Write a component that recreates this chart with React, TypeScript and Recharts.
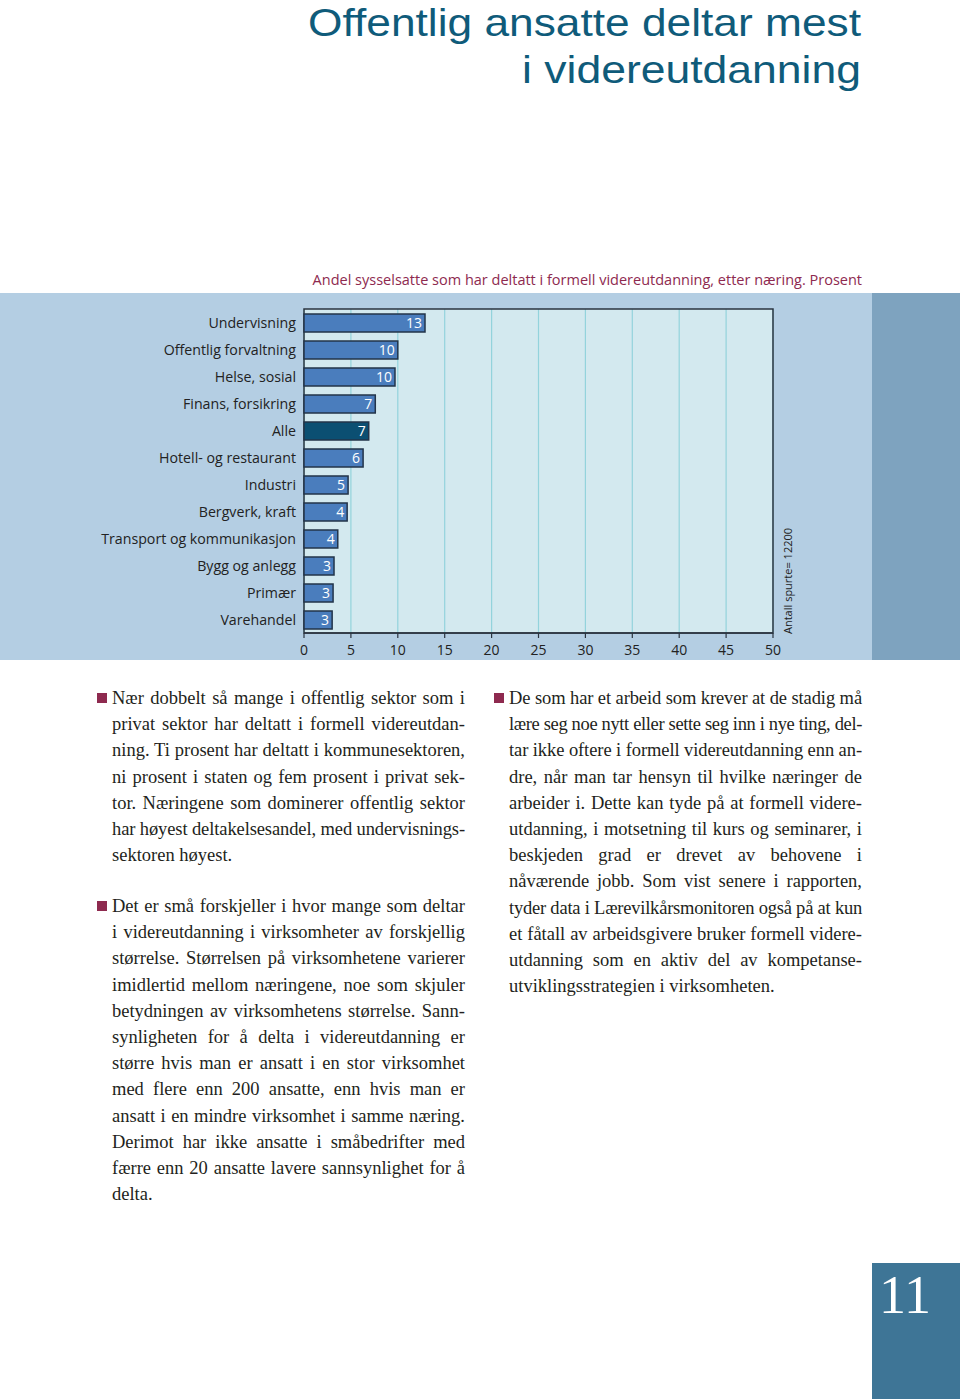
import React, { useLayoutEffect, useRef, useState } from "react";
import {
  Bar,
  BarChart,
  CartesianGrid,
  Cell,
  LabelList,
  ReferenceArea,
  XAxis,
  YAxis,
} from "recharts";

const categories = [
  "Undervisning",
  "Offentlig forvaltning",
  "Helse, sosial",
  "Finans, forsikring",
  "Alle",
  "Hotell- og restaurant",
  "Industri",
  "Bergverk, kraft",
  "Transport og kommunikasjon",
  "Bygg og anlegg",
  "Primær",
  "Varehandel",
];
const shares = [12.9, 10.0, 9.7, 7.6, 6.9, 6.3, 4.7, 4.6, 3.6, 3.2, 3.1, 3.0];
const shareLabels = ["13", "10", "10", "7", "7", "6", "5", "4", "4", "3", "3", "3"];
const xTicks = [0, 5, 10, 15, 20, 25, 30, 35, 40, 45, 50];

const titleLines = ["Offentlig ansatte deltar mest", "i videreutdanning"];
const chartTitle =
  "Andel sysselsatte som har deltatt i formell videreutdanning, etter næring. Prosent";
const sampleNote = "Antall spurte= 12200";

const para1 = [
  "Nær dobbelt så mange i offentlig sektor som i",
  "privat sektor har deltatt i formell videreutdan-",
  "ning. Ti prosent har deltatt i kommunesektoren,",
  "ni prosent i staten og fem prosent i privat sek-",
  "tor. Næringene som dominerer offentlig sektor",
  "har høyest deltakelsesandel, med undervisnings-",
  "sektoren høyest.",
];
const para2 = [
  "Det er små forskjeller i hvor mange som deltar",
  "i videreutdanning i virksomheter av forskjellig",
  "størrelse. Størrelsen på virksomhetene varierer",
  "imidlertid mellom næringene, noe som skjuler",
  "betydningen av virksomhetens størrelse. Sann-",
  "synligheten for å delta i videreutdanning er",
  "større hvis man er ansatt i en stor virksomhet",
  "med flere enn 200 ansatte, enn hvis man er",
  "ansatt i en mindre virksomhet i samme næring.",
  "Derimot har ikke ansatte i småbedrifter med",
  "færre enn 20 ansatte lavere sannsynlighet for å",
  "delta.",
];
const para3 = [
  "De som har et arbeid som krever at de stadig må",
  "lære seg noe nytt eller sette seg inn i nye ting, del-",
  "tar ikke oftere i formell videreutdanning enn an-",
  "dre, når man tar hensyn til hvilke næringer de",
  "arbeider i. Dette kan tyde på at formell videre-",
  "utdanning, i motsetning til kurs og seminarer, i",
  "beskjeden grad er drevet av behovene i",
  "nåværende jobb. Som vist senere i rapporten,",
  "tyder data i Lærevilkårsmonitoren også på at kun",
  "et fåtall av arbeidsgivere bruker formell videre-",
  "utdanning som en aktiv del av kompetanse-",
  "utviklingsstrategien i virksomheten.",
];
const pageNumber = "11";

const accent = "#8e2a4f";
const sans = "'Open Sans', 'Noto Sans', sans-serif";
const serif = "'Liberation Serif', serif";

// justified line: measure natural width, then spread word gaps (or squeeze letters when too long)
function Line({ text, justify, width }: { text: string; justify: boolean; width: number }) {
  const ref = useRef<HTMLSpanElement>(null);
  const [fit, setFit] = useState({ word: 0, letter: 0 });
  useLayoutEffect(() => {
    if (!justify || !ref.current) return;
    const natural = ref.current.getBoundingClientRect().width;
    const spaces = text.split(" ").length - 1;
    const extra = width - natural;
    if (extra < 0) setFit({ word: 0, letter: extra / text.length });
    else if (spaces > 0) setFit({ word: extra / spaces, letter: 0 });
  }, [text, width, justify]);
  return (
    <span ref={ref} style={{ whiteSpace: "nowrap", wordSpacing: fit.word, letterSpacing: fit.letter }}>
      {text}
    </span>
  );
}

function Paragraph({ lines, x, top, width }: { lines: string[]; x: number; top: number; width: number }) {
  return (
    <>
      <div
        style={{
          position: "absolute",
          left: x - 15,
          top: top - 5,
          width: 10,
          height: 10,
          background: accent,
        }}
      />
      {lines.map((line, i) => (
        <div
          key={i}
          style={{
            position: "absolute",
            left: x,
            top: top - 13 + i * 26.2,
            width,
            height: 26,
            lineHeight: "26px",
            fontFamily: serif,
            fontSize: 18.5,
            color: "#231f20",
            whiteSpace: "nowrap",
          }}
        >
          <Line text={line} justify={i < lines.length - 1} width={width} />
        </div>
      ))}
    </>
  );
}

export default function App() {
  const data = categories.map((name, i) => ({
    name,
    value: shares[i],
    label: shareLabels[i],
  }));

  return (
    <div style={{ position: "absolute", left: 0, top: 0, width: 960, height: 1399, background: "#fff", overflow: "hidden" }}>
      <svg width={960} height={100} style={{ position: "absolute", left: 0, top: 0 }}>
        <text x={861} y={35.5} textAnchor="end" fontFamily="'Liberation Sans', sans-serif" fontSize={39} fill="#0f5b7a" textLength={553} lengthAdjust="spacingAndGlyphs">
          {titleLines[0]}
        </text>
        <text x={861} y={83} textAnchor="end" fontFamily="'Liberation Sans', sans-serif" fontSize={39} fill="#0f5b7a" textLength={339} lengthAdjust="spacingAndGlyphs">
          {titleLines[1]}
        </text>
      </svg>

      <div
        style={{
          position: "absolute",
          right: 98,
          top: 270,
          fontFamily: sans,
          fontSize: 14.5,
          lineHeight: "20px",
          color: accent,
          whiteSpace: "nowrap",
        }}
      >
        {chartTitle}
      </div>

      <div style={{ position: "absolute", left: 0, top: 293, width: 872, height: 367, background: "#b4cee3" }}>
        <BarChart
          width={872}
          height={367}
          data={data}
          layout="vertical"
          barCategoryGap="33%"
          margin={{ top: 16, right: 99, bottom: 1, left: 0 }}
        >
          <CartesianGrid horizontal={false} stroke="#93d3dc" fill="#d3e9ef" strokeWidth={1.2} />
          <XAxis
            type="number"
            domain={[0, 50]}
            ticks={xTicks}
            height={26}
            tickSize={5}
            tickMargin={7}
            axisLine={{ stroke: "#2b3440", strokeWidth: 1.5 }}
            tickLine={{ stroke: "#2b3440", strokeWidth: 1.2 }}
            tick={{ fontSize: 14, fill: "#222", fontFamily: sans }}
          />
          <YAxis
            type="category"
            dataKey="name"
            width={304}
            interval={0}
            tickSize={0}
            tickMargin={8}
            axisLine={false}
            tickLine={false}
            tick={{ fontSize: 14.2, fill: "#222", fontFamily: sans }}
          />
          <ReferenceArea x1={0} x2={50} fill="none" stroke="#2b3440" strokeWidth={1.5} ifOverflow="visible" />
          <Bar dataKey="value" barSize={18} fill="#4a7dbd" stroke="#23344a" strokeWidth={1.5} isAnimationActive={false}>
            {data.map((d) => (
              <Cell key={d.name} fill={d.name === "Alle" ? "#0b4f72" : "#4a7dbd"} />
            ))}
            <LabelList dataKey="label" position="insideRight" offset={3} fill="#fff" fontSize={14} fontFamily={sans} />
          </Bar>
        </BarChart>
        <svg width={30} height={120} style={{ position: "absolute", left: 775, top: 225 }}>
          <text
            transform="translate(17,116) rotate(-90)"
            fontFamily={sans}
            fontSize={11}
            fill="#222"
          >
            {sampleNote}
          </text>
        </svg>
      </div>
      <div style={{ position: "absolute", left: 872, top: 293, width: 88, height: 367, background: "#7ea3bf" }} />

      <Paragraph lines={para1} x={112} top={698} width={353} />
      <Paragraph lines={para2} x={112} top={906} width={353} />
      <Paragraph lines={para3} x={509} top={698} width={353} />

      <div style={{ position: "absolute", left: 872, top: 1263, width: 88, height: 136, background: "#3e7596" }}>
        <div
          style={{
            position: "absolute",
            left: 7,
            top: 2,
            fontFamily: serif,
            fontSize: 54,
            lineHeight: "60px",
            color: "#fff",
          }}
        >
          {pageNumber}
        </div>
      </div>
    </div>
  );
}
